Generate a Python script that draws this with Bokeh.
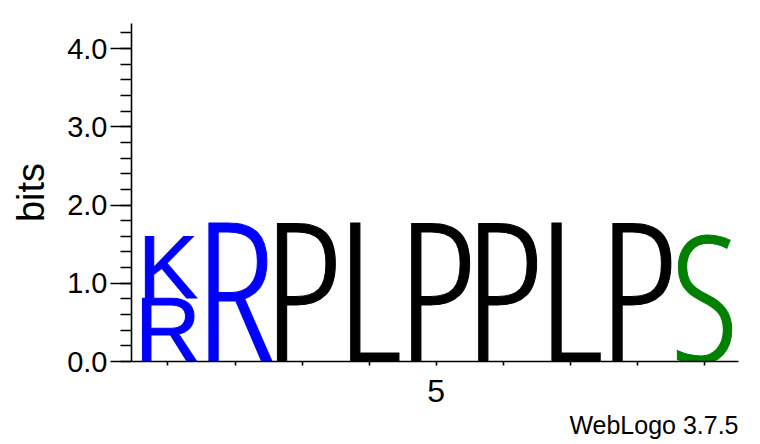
from bokeh.plotting import figure
from bokeh.models import (ColumnDataSource, SingleIntervalTicker, FixedTicker,
                          PrintfTickFormatter, Title, Range1d)
from bokeh.embed import file_html
from bokeh.resources import INLINE

positions = [1, 1, 2, 3, 4, 5, 6, 7, 8, 9]
letters = ["R", "K", "R", "P", "L", "P", "P", "L", "P", "S"]
heights = [0.80, 0.79, 1.77, 1.77, 1.77, 1.77, 1.77, 1.77, 1.77, 1.60]   # bits
x_ticks = [1, 2, 3, 4, 5, 6, 7, 8, 9]
x_tick_labels = {5: "5"}
y_max = 4.32          # log2(20)
axis_title = "bits"
credit = "WebLogo 3.7.5"
letter_colors = {"K": "#0000ff", "R": "#0000ff", "P": "#000000", "L": "#000000", "S": "#008000"}

# ---- layout / style ----
W, H = 760, 444
B_LEFT, B_RIGHT, B_TOP, B_BOTTOM = 131, 22, 23, 83
frame_h = H - B_TOP - B_BOTTOM
px_per_bit = frame_h / y_max

NARROW = "Open Sans Condensed Light"
REGULAR = "Liberation Sans"
CAP = {NARROW: 0.714, REGULAR: 0.688}         # cap height / em
BASE_FIX = {NARROW: -0.386, REGULAR: -0.35}   # baseline correction (em)

# stack letters in each column
bottoms = []
running = {}
for pos, h in zip(positions, heights):
    b = running.get(pos, 0.0)
    bottoms.append(b)
    running[pos] = b + h

fonts, sizes, colors, yoffs = [], [], [], []
for let, h in zip(letters, heights):
    hp = h * px_per_bit
    f = NARROW if hp > 100 else REGULAR
    fs = hp / CAP[f]
    fonts.append(f)
    sizes.append("%.1fpx" % fs)
    yoffs.append(BASE_FIX[f] * fs)
    colors.append(letter_colors[let])

src = ColumnDataSource(dict(x=positions, y=bottoms, text=letters, font=fonts,
                            size=sizes, color=colors, yoff=yoffs))

p = figure(width=W, height=H, output_backend="svg", toolbar_location=None,
           x_range=Range1d(0.456, 9.507), y_range=Range1d(0, y_max),
           min_border_left=B_LEFT, min_border_right=B_RIGHT,
           min_border_top=B_TOP, min_border_bottom=B_BOTTOM)
p.outline_line_color = None
p.grid.visible = False
p.background_fill_color = "white"
p.border_fill_color = "white"

r = p.text(x="x", y="y", text="text", source=src, text_font="font",
           text_font_size="size", text_color="color", y_offset="yoff",
           text_align="center", text_baseline="alphabetic")
g = r.glyph
props = g.properties()
if "text_outline_color" in props:
    g.text_outline_color = "color"
if "text_outline_width" in props:
    g.text_outline_width = 3

# y axis
ya = p.yaxis[0]
ya.ticker = SingleIntervalTicker(interval=1, num_minor_ticks=5)
ya.formatter = PrintfTickFormatter(format="%.1f")
ya.axis_label = axis_title
ya.axis_label_text_font = "Liberation Sans"
ya.axis_label_text_font_size = "38px"
ya.axis_label_text_font_style = "normal"
ya.axis_label_text_color = "black"
ya.axis_label_standoff = 12
ya.major_label_text_font = "Liberation Sans"
ya.major_label_text_font_size = "29px"
ya.major_label_text_color = "black"
ya.major_label_standoff = 3
ya.major_tick_out = 21
ya.major_tick_in = 0
ya.minor_tick_out = 11
ya.minor_tick_in = 0
ya.axis_line_width = 1.6
ya.major_tick_line_width = 1.6
ya.minor_tick_line_width = 1.6

# x axis
xa = p.xaxis[0]
xa.ticker = FixedTicker(ticks=x_ticks)
xa.major_label_overrides = {t: x_tick_labels.get(t, "") for t in x_ticks}
xa.major_label_text_font = "Liberation Sans"
xa.major_label_text_font_size = "32px"
xa.major_label_text_color = "black"
xa.major_label_standoff = 14
xa.major_tick_out = 4
xa.major_tick_in = 0
xa.minor_tick_out = 0
xa.minor_tick_in = 0
xa.axis_line_width = 1.6
xa.major_tick_line_width = 1.6

p.add_layout(Title(text=credit, align="right", text_font="Liberation Sans",
                   text_font_size="25px", text_font_style="normal",
                   text_color="black", standoff=9), "below")

open("out.html", "w").write(file_html(p, INLINE))
